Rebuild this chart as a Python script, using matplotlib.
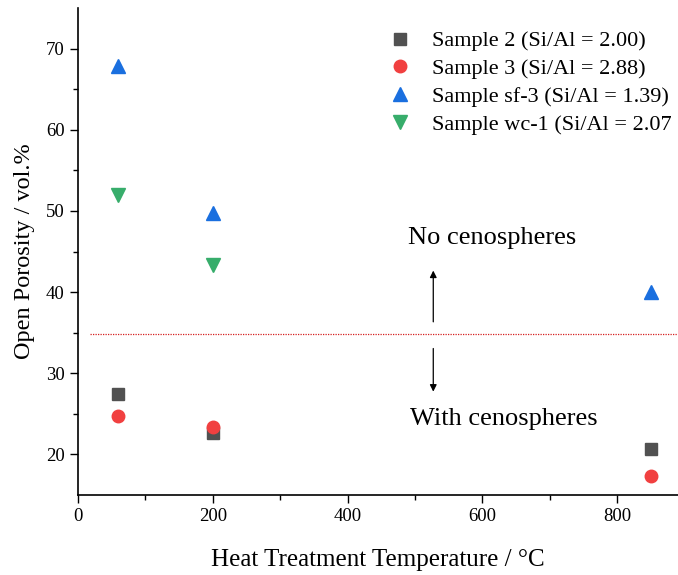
import matplotlib
matplotlib.use("Agg")
import matplotlib.pyplot as plt

plt.rcParams['font.family'] = ['Liberation Serif', 'DejaVu Serif']

temps_2 = [60, 200, 850]
poro_2 = [27.5, 22.6, 20.7]
temps_3 = [60, 200, 850]
poro_3 = [24.7, 23.4, 17.4]
temps_sf3 = [60, 200, 850]
poro_sf3 = [67.8, 49.8, 40.0]
temps_wc1 = [60, 200]
poro_wc1 = [52.0, 43.4]

labels = ["Sample 2 (Si/Al = 2.00)", "Sample 3 (Si/Al = 2.88)",
          "Sample sf-3 (Si/Al = 1.39)", "Sample wc-1 (Si/Al = 2.07"]

threshold = 34.8

fig = plt.figure(figsize=(6.78, 5.75), dpi=100)
ax = fig.add_axes([0.115, 0.139, 0.885, 0.847])

ax.plot(temps_2, poro_2, 's', color='#515151', ms=8, label=labels[0], zorder=3)
ax.plot(temps_3, poro_3, 'o', color='#F14040', ms=9, label=labels[1], zorder=4)
ax.plot(temps_sf3, poro_sf3, '^', color='#1A6FDF', ms=9.5, label=labels[2], zorder=3)
ax.plot(temps_wc1, poro_wc1, 'v', color='#37AD6B', ms=9.5, label=labels[3], zorder=3)

ax.plot([18, 890], [threshold, threshold], linestyle=(0, (1, 1)), color='#d62020', lw=0.9, zorder=2)

ax.annotate('', xy=(527, 43.0), xytext=(527, 36.0),
            arrowprops=dict(arrowstyle='-|>', color='black', lw=0.9, mutation_scale=10))
ax.annotate('', xy=(527, 27.4), xytext=(527, 33.4),
            arrowprops=dict(arrowstyle='-|>', color='black', lw=0.9, mutation_scale=10))
ax.text(490, 46.7, 'No cenospheres', fontsize=19, ha='left', va='center')
ax.text(492, 24.4, 'With cenospheres', fontsize=19, ha='left', va='center')

ax.set_xlim(0, 890)
ax.set_ylim(15, 75)
ax.set_xticks([0, 200, 400, 600, 800])
ax.set_xticks([100, 300, 500, 700], minor=True)
ax.set_yticks([20, 30, 40, 50, 60, 70])
ax.set_yticks([25, 35, 45, 55, 65], minor=True)
ax.tick_params(axis='both', which='major', length=6, width=1, labelsize=13.5, direction='out')
ax.tick_params(axis='both', which='minor', length=3.5, width=1, direction='out')
for s in ['top', 'right']:
    ax.spines[s].set_visible(False)
for s in ['left', 'bottom']:
    ax.spines[s].set_linewidth(1.2)

ax.set_xlabel('Heat Treatment Temperature / °C', fontsize=18, labelpad=17)
ax.set_ylabel('Open Porosity / vol.%', fontsize=17.5, labelpad=8)

fig.legend(loc='upper left', bbox_to_anchor=(0.5605, 0.962), frameon=False, fontsize=16,
           handlelength=1.0, handletextpad=0.95, labelspacing=0.33, borderaxespad=0.0,
           borderpad=0.4)

fig.savefig('out.png', dpi=100)
